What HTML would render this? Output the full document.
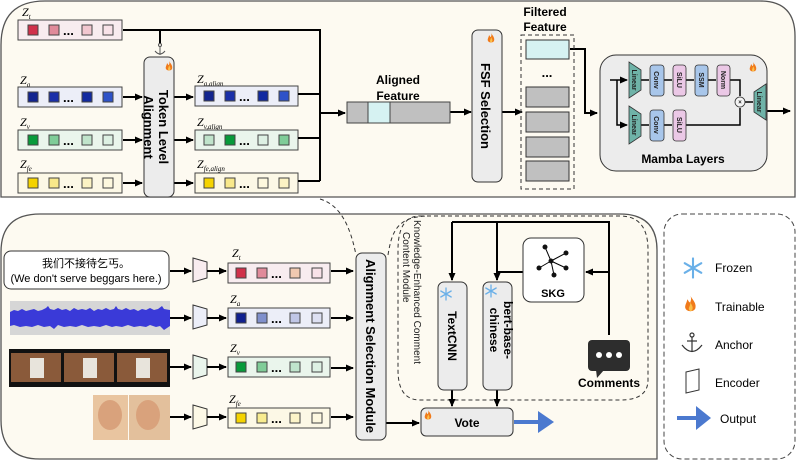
<!DOCTYPE html>
<html><head><meta charset="utf-8"><style>
html,body{margin:0;padding:0;background:#fff;}
svg{display:block;font-family:"Liberation Sans","Noto Sans CJK SC",sans-serif;}
</style></head><body>
<svg width="797" height="461" viewBox="0 0 797 461" xmlns="http://www.w3.org/2000/svg">
<defs>
<marker id="ar" markerWidth="8" markerHeight="8" refX="7" refY="4" orient="auto" markerUnits="userSpaceOnUse"><path d="M0,0.5 L8,4 L0,7.5z" fill="#000"/></marker>
<g id="flame"><path d="M4,0 C6,3 8,5 7,8 C6,10 2,10 1,8 C0,6 2,4 2,2 C3,3 3,4 4,4 C4,3 5,2 4,0z" fill="#f07a1a"/><path d="M4,4 C5,6 6,7 5,9 C4,10 3,9 3,8 C3,7 4,6 4,4z" fill="#fbc04a"/></g>
<g id="snow" stroke="#6ab0e8" stroke-width="1.3" stroke-linecap="round"><line x1="0" y1="-6" x2="0" y2="6"/><line x1="-5.2" y1="-3" x2="5.2" y2="3"/><line x1="-5.2" y1="3" x2="5.2" y2="-3"/></g>
</defs>

<path d="M45,1 H760 Q795,1 795,36 V197 H1 V45 Q1,1 45,1z" fill="#fdfaf1" stroke="#555" stroke-width="1.3"/>

<g font-family="Liberation Serif,serif" font-style="italic" font-size="12">
<text x="22" y="16">Z<tspan font-size="7" dy="3">t</tspan></text>
<text x="20" y="84">Z<tspan font-size="7" dy="3">a</tspan></text>
<text x="20" y="126">Z<tspan font-size="7" dy="3">v</tspan></text>
<text x="20" y="168">Z<tspan font-size="7" dy="3">fe</tspan></text>
<text x="197" y="83">Z<tspan font-size="7" dy="3">a,align</tspan></text>
<text x="197" y="126">Z<tspan font-size="7" dy="3">v,align</tspan></text>
<text x="197" y="168">Z<tspan font-size="7" dy="3">fe,align</tspan></text>
</g>

<g stroke="#444" stroke-width="1">
<rect x="18" y="20" width="104" height="20" fill="#f8ecef"/>
<rect x="28" y="25" width="10" height="10" fill="#d0304a"/><rect x="49" y="25" width="10" height="10" fill="#e08a9a"/><rect x="82" y="25" width="10" height="10" fill="#f2c7d0"/><rect x="103" y="25" width="10" height="10" fill="#f8e2e8"/>
<rect x="18" y="87" width="104" height="20" fill="#eceef8"/>
<rect x="28" y="92" width="10" height="10" fill="#12248f"/><rect x="49" y="92" width="10" height="10" fill="#1a2fa8"/><rect x="82" y="92" width="10" height="10" fill="#122aa0"/><rect x="103" y="92" width="10" height="10" fill="#2e52c8"/>
<rect x="18" y="130" width="104" height="20" fill="#eaf5ec"/>
<rect x="28" y="135" width="10" height="10" fill="#079a3a"/><rect x="49" y="135" width="10" height="10" fill="#7fcc98"/><rect x="82" y="135" width="10" height="10" fill="#c0e4cb"/><rect x="103" y="135" width="10" height="10" fill="#ddf0e3"/>
<rect x="18" y="173" width="104" height="20" fill="#fcf8e6"/>
<rect x="28" y="178" width="10" height="10" fill="#f5d300"/><rect x="49" y="178" width="10" height="10" fill="#f8e88a"/><rect x="82" y="178" width="10" height="10" fill="#fcf3c4"/><rect x="103" y="178" width="10" height="10" fill="#fdf8de"/>
<rect x="195" y="86" width="103" height="20" fill="#eceef8"/>
<rect x="204" y="91" width="10" height="10" fill="#12248f"/><rect x="225" y="91" width="10" height="10" fill="#1a2fa8"/><rect x="258" y="91" width="10" height="10" fill="#122aa0"/><rect x="279" y="91" width="10" height="10" fill="#2e52c8"/>
<rect x="195" y="130" width="103" height="20" fill="#eaf5ec"/>
<rect x="204" y="135" width="10" height="10" fill="#c0e4cb"/><rect x="225" y="135" width="10" height="10" fill="#079a3a"/><rect x="258" y="135" width="10" height="10" fill="#ddf0e3"/><rect x="279" y="135" width="10" height="10" fill="#7fcc98"/>
<rect x="195" y="173" width="103" height="20" fill="#fcf8e6"/>
<rect x="204" y="178" width="10" height="10" fill="#f5d300"/><rect x="225" y="178" width="10" height="10" fill="#f8e88a"/><rect x="258" y="178" width="10" height="10" fill="#fdf8de"/><rect x="279" y="178" width="10" height="10" fill="#fcf3c4"/>
</g>
<g font-size="13" font-weight="bold">
<text x="63" y="35">...</text><text x="63" y="102">...</text><text x="63" y="145">...</text><text x="63" y="188">...</text>
<text x="239" y="101">...</text><text x="239" y="145">...</text><text x="239" y="188">...</text>
</g>

<g stroke="#000" stroke-width="2" fill="none">
<polyline points="123,30 320,30 320,181"/>
<line x1="160" y1="30" x2="160" y2="44"/>
<line x1="123" y1="97" x2="142" y2="97" marker-end="url(#ar)"/>
<line x1="123" y1="140" x2="142" y2="140" marker-end="url(#ar)"/>
<line x1="123" y1="183" x2="142" y2="183" marker-end="url(#ar)"/>
<line x1="174" y1="97" x2="193" y2="97" marker-end="url(#ar)"/>
<line x1="174" y1="140" x2="193" y2="140" marker-end="url(#ar)"/>
<line x1="174" y1="183" x2="193" y2="183" marker-end="url(#ar)"/>
<line x1="298" y1="94" x2="320" y2="94"/>
<line x1="298" y1="138" x2="320" y2="138"/>
<line x1="298" y1="181" x2="320" y2="181"/>
<line x1="320" y1="113" x2="345" y2="113" marker-end="url(#ar)"/>
<line x1="450" y1="112" x2="471" y2="112" marker-end="url(#ar)"/>
<line x1="501" y1="112" x2="522" y2="112" marker-end="url(#ar)"/>
<polyline points="570,49 585,49 585,113 597,113" marker-end="url(#ar)"/>
<line x1="766" y1="111" x2="790" y2="111" marker-end="url(#ar)"/>
</g>
<g stroke="#555" stroke-width="1" fill="none"><circle cx="160" cy="45" r="1.5"/><line x1="160" y1="47" x2="160" y2="55"/><path d="M155,51 Q160,57 165,51"/></g>

<rect x="144" y="57" width="30" height="140" rx="6" fill="#ececec" stroke="#333" stroke-width="1"/>
<use href="#flame" x="165" y="61"/>
<text transform="translate(155,127) rotate(90)" text-anchor="middle" font-size="13" font-weight="bold"><tspan x="0" dy="-4">Token Level</tspan><tspan x="0" dy="15">Alignment</tspan></text>

<text x="398" y="84" text-anchor="middle" font-size="12" font-weight="bold">Aligned</text>
<text x="398" y="100" text-anchor="middle" font-size="12" font-weight="bold">Feature</text>
<rect x="347" y="102" width="21" height="21" fill="#c0c0c0" stroke="#444"/>
<rect x="368" y="102" width="22" height="21" fill="#d6f2f2" stroke="#444"/>
<rect x="390" y="102" width="60" height="21" fill="#c0c0c0" stroke="#444"/>

<rect x="472" y="30" width="30" height="152" rx="6" fill="#ececec" stroke="#333"/>
<use href="#flame" x="487" y="33"/>
<text transform="translate(481,106) rotate(90)" text-anchor="middle" font-size="13" font-weight="bold">FSF Selection</text>

<text x="545" y="16" text-anchor="middle" font-size="12" font-weight="bold">Filtered</text>
<text x="545" y="31" text-anchor="middle" font-size="12" font-weight="bold">Feature</text>
<rect x="521" y="35" width="53" height="154" fill="none" stroke="#333" stroke-dasharray="4,3"/>
<rect x="526" y="40" width="43" height="19" fill="#d6f2f2" stroke="#333"/>
<text x="547" y="77" text-anchor="middle" font-size="13" font-weight="bold">...</text>
<rect x="526" y="87" width="43" height="20" fill="#c0c0c0" stroke="#333"/>
<rect x="526" y="112" width="43" height="20" fill="#c0c0c0" stroke="#333"/>
<rect x="526" y="137" width="43" height="20" fill="#c0c0c0" stroke="#333"/>
<rect x="526" y="161" width="43" height="20" fill="#c0c0c0" stroke="#333"/>

<rect x="600" y="55" width="167" height="116" rx="16" fill="#ececec" stroke="#333"/>
<use href="#flame" x="749" y="62"/>
<text x="683" y="163" text-anchor="middle" font-size="12" font-weight="bold">Mamba Layers</text>
<g stroke="#000" stroke-width="1.5" fill="none">
<line x1="610" y1="80" x2="627" y2="80" marker-end="url(#ar)"/>
<polyline points="617,80 617,125 627,125" marker-end="url(#ar)"/>
<line x1="641" y1="80" x2="649" y2="80"/><line x1="664" y1="80" x2="672" y2="80"/><line x1="686" y1="80" x2="694" y2="80"/><line x1="708" y1="80" x2="716" y2="80"/>
<line x1="641" y1="125" x2="649" y2="125"/><line x1="664" y1="125" x2="672" y2="125"/>
<polyline points="730,80 740,80 740,96"/>
<polyline points="686,125 740,125 740,108"/>
<line x1="745" y1="102" x2="753" y2="102"/>
</g>
<g stroke="#333" stroke-width="0.8">
<polygon points="629,62 641,70 641,90 629,98" fill="#6fb3a8"/>
<polygon points="629,106 641,114 641,136 629,144" fill="#6fb3a8"/>
<polygon points="766,84 754,92 754,112 766,120" fill="#6fb3a8"/>
<rect x="650" y="65" width="14" height="31" rx="3" fill="#a8c6ea"/>
<rect x="673" y="65" width="13" height="31" rx="3" fill="#ebc8e6"/>
<rect x="695" y="65" width="13" height="31" rx="3" fill="#a8c6ea"/>
<rect x="717" y="65" width="13" height="31" rx="3" fill="#ebc8e6"/>
<rect x="650" y="110" width="14" height="31" rx="3" fill="#a8c6ea"/>
<rect x="673" y="110" width="13" height="31" rx="3" fill="#ebc8e6"/>
<circle cx="740" cy="102" r="5" fill="#f4f4f4"/>
</g>
<g font-size="7" font-weight="bold" fill="#222">
<text transform="translate(632,80) rotate(90)" text-anchor="middle">Linear</text>
<text transform="translate(632,125) rotate(90)" text-anchor="middle">Linear</text>
<text transform="translate(757,102) rotate(90)" text-anchor="middle">Linear</text>
<text transform="translate(654,80) rotate(90)" text-anchor="middle">Conv</text>
<text transform="translate(677,80) rotate(90)" text-anchor="middle">SiLU</text>
<text transform="translate(699,80) rotate(90)" text-anchor="middle">SSM</text>
<text transform="translate(721,80) rotate(90)" text-anchor="middle">Norm</text>
<text transform="translate(654,125) rotate(90)" text-anchor="middle">Conv</text>
<text transform="translate(677,125) rotate(90)" text-anchor="middle">SiLU</text>
<text x="740" y="104" text-anchor="middle" font-size="6">×</text>
</g>

<path d="M40,214 H620 Q657,214 657,250 V459 H40 Q1,459 1,420 V252 Q1,214 40,214z" fill="#fdfaf1" stroke="#555" stroke-width="1.3"/>
<rect x="664" y="214" width="131" height="245" rx="18" fill="#fff" stroke="#444" stroke-dasharray="5,3"/>
<path d="M320,199 C340,205 350,225 356,255" fill="none" stroke="#333" stroke-dasharray="4,3"/>
<path d="M388,255 C392,230 398,216 430,216" fill="none" stroke="#333" stroke-dasharray="4,3"/>
<path d="M420,216 H620 Q648,216 648,250 V380 Q648,400 620,400 H420 Q398,400 398,370 V250 Q398,216 420,216z" fill="none" stroke="#333" stroke-dasharray="4,3"/>

<rect x="4" y="251" width="165" height="38" rx="7" fill="#fff" stroke="#333"/>
<text x="86" y="267" text-anchor="middle" font-size="11">我们不接待乞丐。</text>
<text x="86" y="282" text-anchor="middle" font-size="11">(We don't serve beggars here.)</text>
<rect x="10" y="301" width="160" height="34" fill="#d6d6d6"/>
<rect x="10" y="312" width="160" height="12" fill="#3a3ad8"/>
<path d="M10,312 L14,310 L18,311 L22,309 L26,311 L30,310 L34,309 L38,311 L42,310 L46,308 L48,306 L50,309 L54,310 L58,308 L62,310 L66,309 L70,311 L74,308 L78,310 L82,309 L86,310 L90,308 L94,311 L98,309 L102,310 L106,308 L110,310 L114,309 L116,306 L118,309 L122,310 L126,308 L130,310 L134,309 L138,311 L142,309 L146,310 L150,308 L154,310 L158,309 L162,306 L164,309 L170,310 L170,326 L164,330 L160,326 L156,327 L150,325 L146,327 L140,326 L134,327 L128,325 L122,327 L116,326 L112,327 L106,325 L100,327 L94,326 L88,327 L82,325 L76,327 L70,326 L64,327 L58,325 L54,329 L50,326 L44,327 L38,325 L32,327 L26,326 L20,327 L14,325 L10,326z" fill="#3a3ad8"/>
<rect x="9" y="349" width="161" height="38" fill="#111"/>
<rect x="11" y="353" width="50" height="29" fill="#8a5a3a"/><rect x="64" y="353" width="50" height="29" fill="#8a5a3a"/><rect x="117" y="353" width="50" height="29" fill="#8a5a3a"/>
<rect x="30" y="358" width="14" height="20" fill="#e8e4dc"/><rect x="83" y="358" width="14" height="20" fill="#e8e4dc"/><rect x="136" y="358" width="14" height="20" fill="#e8e4dc"/>
<rect x="93" y="395" width="35" height="45" fill="#e9c5a0"/><rect x="129" y="395" width="41" height="45" fill="#e3c09c"/>
<ellipse cx="110" cy="415" rx="12" ry="15" fill="#d9a27c"/><ellipse cx="148" cy="415" rx="12" ry="15" fill="#d9a27c"/>

<g font-family="Liberation Serif,serif" font-style="italic" font-size="12">
<text x="232" y="257">Z<tspan font-size="7" dy="3">t</tspan></text>
<text x="230" y="303">Z<tspan font-size="7" dy="3">a</tspan></text>
<text x="230" y="352">Z<tspan font-size="7" dy="3">v</tspan></text>
<text x="229" y="403">Z<tspan font-size="7" dy="3">fe</tspan></text>
</g>
<g stroke="#333" stroke-width="1">
<polygon points="193,258 207,262 207,278 193,282" fill="#f8ecef"/>
<polygon points="193,305 207,309 207,325 193,329" fill="#eceef8"/>
<polygon points="193,355 207,359 207,375 193,379" fill="#eaf5ec"/>
<polygon points="193,405 207,409 207,425 193,429" fill="#fcf8e6"/>
</g>
<g stroke="#444" stroke-width="1">
<rect x="228" y="263" width="102" height="20" fill="#f8ecef"/>
<rect x="236" y="268" width="10" height="10" fill="#d0304a"/><rect x="257" y="268" width="10" height="10" fill="#e08a9a"/><rect x="290" y="268" width="10" height="10" fill="#f0c8b0"/><rect x="312" y="268" width="10" height="10" fill="#f8e2e8"/>
<rect x="228" y="308" width="102" height="20" fill="#eceef8"/>
<rect x="236" y="313" width="10" height="10" fill="#10208f"/><rect x="257" y="313" width="10" height="10" fill="#8090cc"/><rect x="290" y="313" width="10" height="10" fill="#c0c6e6"/><rect x="312" y="313" width="10" height="10" fill="#dde0f2"/>
<rect x="228" y="357" width="102" height="20" fill="#eaf5ec"/>
<rect x="236" y="362" width="10" height="10" fill="#079a3a"/><rect x="257" y="362" width="10" height="10" fill="#80cc98"/><rect x="290" y="362" width="10" height="10" fill="#bfe4cc"/><rect x="312" y="362" width="10" height="10" fill="#ddf0e3"/>
<rect x="228" y="408" width="102" height="20" fill="#fcf8e6"/>
<rect x="236" y="413" width="10" height="10" fill="#f5d300"/><rect x="257" y="413" width="10" height="10" fill="#f8ec90"/><rect x="290" y="413" width="10" height="10" fill="#fcf4c8"/><rect x="312" y="413" width="10" height="10" fill="#fdf8e0"/>
</g>
<g font-size="13" font-weight="bold">
<text x="271" y="278">...</text><text x="271" y="323">...</text><text x="271" y="372">...</text><text x="271" y="423">...</text>
</g>
<g stroke="#000" stroke-width="2" fill="none">
<line x1="170" y1="271" x2="191" y2="271" marker-end="url(#ar)"/>
<line x1="170" y1="318" x2="191" y2="318" marker-end="url(#ar)"/>
<line x1="170" y1="367" x2="191" y2="367" marker-end="url(#ar)"/>
<line x1="170" y1="417" x2="191" y2="417" marker-end="url(#ar)"/>
<line x1="207" y1="271" x2="226" y2="271" marker-end="url(#ar)"/>
<line x1="207" y1="318" x2="226" y2="318" marker-end="url(#ar)"/>
<line x1="207" y1="367" x2="226" y2="367" marker-end="url(#ar)"/>
<line x1="207" y1="417" x2="226" y2="417" marker-end="url(#ar)"/>
<line x1="331" y1="271" x2="353" y2="271" marker-end="url(#ar)"/>
<line x1="331" y1="318" x2="353" y2="318" marker-end="url(#ar)"/>
<line x1="331" y1="368" x2="353" y2="368" marker-end="url(#ar)"/>
<line x1="331" y1="417" x2="353" y2="417" marker-end="url(#ar)"/>
<line x1="386" y1="423" x2="419" y2="423" marker-end="url(#ar)"/>
<polyline points="452,222 609,222 609,335"/>
<line x1="452" y1="222" x2="452" y2="280" marker-end="url(#ar)"/>
<line x1="497" y1="222" x2="497" y2="280" marker-end="url(#ar)"/>
<line x1="523" y1="272" x2="497" y2="272"/>
<line x1="609" y1="272" x2="586" y2="272" marker-end="url(#ar)"/>
<line x1="452" y1="390" x2="452" y2="406" marker-end="url(#ar)"/>
<line x1="497" y1="390" x2="497" y2="406" marker-end="url(#ar)"/>
</g>

<rect x="356" y="253" width="30" height="187" rx="6" fill="#ececec" stroke="#333"/>
<text transform="translate(366,346) rotate(90)" text-anchor="middle" font-size="13" font-weight="bold">Alignment Selection Module</text>

<text transform="translate(414,220) rotate(90)" font-size="10" fill="#222"><tspan x="0" dy="0">Knowledge-Enhanced Comment</tspan><tspan x="12" dy="11">Content Module</tspan></text>

<rect x="438" y="282" width="29" height="108" rx="6" fill="#ececec" stroke="#333"/>
<use href="#snow" x="446" y="294"/>
<text transform="translate(448,336) rotate(90)" text-anchor="middle" font-size="12" font-weight="bold">TextCNN</text>
<rect x="483" y="282" width="29" height="108" rx="6" fill="#ececec" stroke="#333"/>
<use href="#snow" x="491" y="291"/>
<text transform="translate(500,330) rotate(90)" text-anchor="middle" font-size="12" font-weight="bold"><tspan x="0" dy="-4">bert-base-</tspan><tspan x="0" dy="14">chinese</tspan></text>

<rect x="523" y="238" width="61" height="64" rx="8" fill="#fff" stroke="#333"/>
<g stroke="#000" stroke-width="1"><line x1="545" y1="247" x2="551" y2="261"/><line x1="551" y1="261" x2="566" y2="253"/><line x1="551" y1="261" x2="539" y2="268"/><line x1="551" y1="261" x2="566" y2="268"/><line x1="551" y1="261" x2="554" y2="275"/></g>
<g fill="#111"><circle cx="545" cy="247" r="2.5"/><circle cx="551" cy="261" r="2.5"/><circle cx="566" cy="253" r="2.5"/><circle cx="539" cy="268" r="2.5"/><circle cx="566" cy="268" r="2.5"/><circle cx="554" cy="275" r="2.5"/></g>
<text x="553" y="297" text-anchor="middle" font-size="11" font-weight="bold">SKG</text>

<rect x="588" y="340" width="42" height="31" rx="4" fill="#2d2d2d"/>
<polygon points="596,370 604,370 597,378" fill="#2d2d2d"/>
<circle cx="599" cy="355" r="3" fill="#fff"/><circle cx="609" cy="355" r="3" fill="#fff"/><circle cx="619" cy="355" r="3" fill="#fff"/>
<text x="609" y="387" text-anchor="middle" font-size="12" font-weight="bold">Comments</text>

<rect x="421" y="408" width="92" height="28" rx="5" fill="#ececec" stroke="#333"/>
<use href="#flame" x="424" y="410"/>
<text x="467" y="427" text-anchor="middle" font-size="12" font-weight="bold">Vote</text>
<path d="M514,420 H538 V411 L554,422 L538,433 V424 H514z" fill="#4b79cf"/>

<g transform="translate(693,268) scale(1.6)"><use href="#snow"/></g>
<text x="715" y="272" font-size="12">Frozen</text>
<g transform="translate(684,296) scale(1.6)"><use href="#flame"/></g>
<text x="715" y="311" font-size="12">Trainable</text>
<g stroke="#333" stroke-width="1.2" fill="none"><circle cx="692" cy="335" r="2"/><line x1="692" y1="337" x2="692" y2="352"/><line x1="687" y1="341" x2="697" y2="341"/><path d="M682,345 Q692,358 702,345"/></g>
<text x="715" y="349" font-size="12">Anchor</text>
<polygon points="686,372 699,369 699,390 686,393" fill="#fff" stroke="#333"/>
<text x="715" y="387" font-size="12">Encoder</text>
<path d="M677,416 H696 V406 L711,418 L696,430 V420 H677z" fill="#4b79cf"/>
<text x="720" y="423" font-size="12">Output</text>
</svg>
</body></html>
